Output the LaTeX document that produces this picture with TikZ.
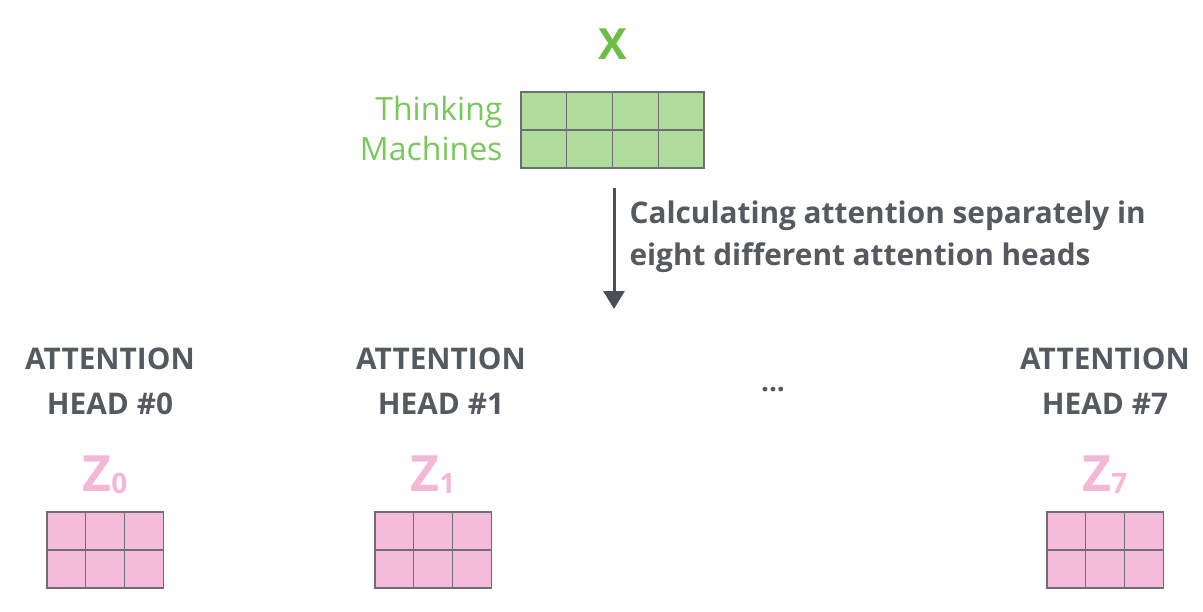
\documentclass[tikz,border=0pt]{standalone}
\usepackage{fontspec}
\setmainfont{Open Sans}
\usetikzlibrary{arrows.meta}
\definecolor{xgreen}{RGB}{108,190,72}
\definecolor{lgreen}{RGB}{120,200,90}
\definecolor{gfill}{RGB}{176,221,155}
\definecolor{pfill}{RGB}{244,188,218}
\definecolor{ptext}{RGB}{244,184,214}
\definecolor{gridc}{RGB}{110,110,115}
\definecolor{txt}{RGB}{85,90,97}
\definecolor{arr}{RGB}{75,80,88}
\tikzset{
  cellg/.style={draw=gridc, line width=1.2pt, fill=gfill, minimum width=45.75pt, minimum height=38pt, inner sep=0pt},
  cellp/.style={draw=gridc, line width=1.2pt, fill=pfill, minimum width=38.7pt, minimum height=38pt, inner sep=0pt},
  head/.style={font=\fontsize{29.8}{45}\selectfont\bfseries, text=txt, align=center},
  zlab/.style={font=\fontsize{50}{50}\selectfont\bfseries, text=ptext},
}
\begin{document}
\begin{tikzpicture}[x=1pt,y=-1pt]
\useasboundingbox (0,0) rectangle (1203,611);
% X matrix
\node[font=\fontsize{43}{43}\selectfont\bfseries, text=xgreen] (X) at (613,44) {X};
\foreach \r in {0,1} \foreach \c in {0,1,2,3}
  \node[cellg] (g\r\c) at (521+45.75/2+\c*45.75, 92+19+\r*38) {};
\node[font=\fontsize{32}{40}\selectfont, text=lgreen, align=right, anchor=east] (tm) at (506,128) {Thinking\\Machines};
% arrow
\coordinate (a1) at (614,188);
\coordinate (a2) at (614,309);
\draw[arr, line width=3pt, -{Triangle[length=18pt,width=21pt]}] (a1) -- (a2);
\node[font=\fontsize{29.8}{42}\selectfont\bfseries, text=txt, align=left, anchor=west] (calc) at (626,237) {Calculating attention separately in\\eight different attention heads};
% heads
\node[head] (h0) at (110,381) {ATTENTION\\HEAD \#0};
\node[head] (h1) at (441,381) {ATTENTION\\HEAD \#1};
\node[head] (h7) at (1105,381) {ATTENTION\\HEAD \#7};
\node[font=\fontsize{28}{28}\selectfont\bfseries, text=txt] (dots) at (773,390) {...};
% Z matrices
\foreach \name/\x/\lx/\s in {p0/47/105/0, p1/375/433/1, p7/1047/1105/7} {
  \node[zlab] (z\name) at (\lx,475) {Z\raisebox{-0.04em}{\fontsize{28}{28}\selectfont \s}};
  \foreach \r in {0,1} \foreach \c in {0,1,2}
    \node[cellp] (\name\r\c) at (\x+19.35+\c*38.7, 512+19+\r*38) {};
}
\end{tikzpicture}
\end{document}
